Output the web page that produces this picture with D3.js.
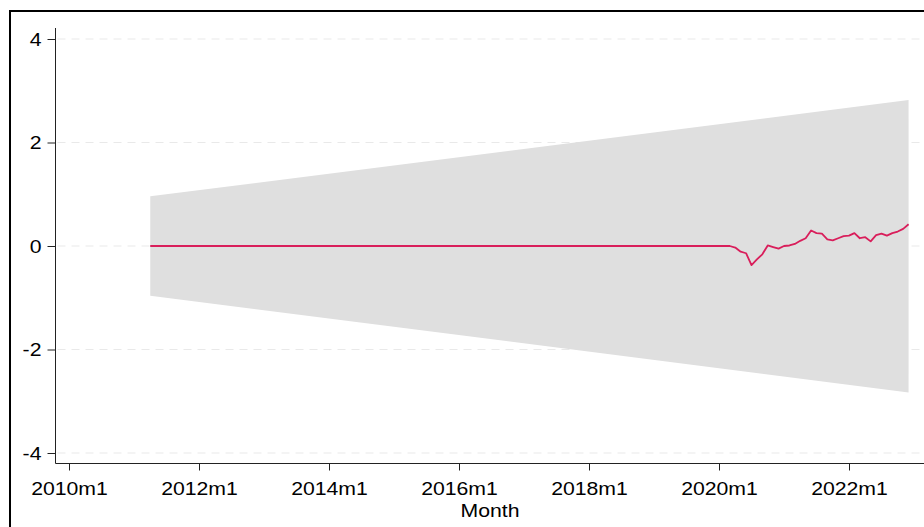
<!DOCTYPE html>
<html>
<head>
<meta charset="utf-8">
<script src="https://cdn.jsdelivr.net/npm/d3@7"></script>
<style>
  body { margin: 0; background: #fff; }
  svg { display: block; }
  text { font-family: "Liberation Sans", Arial, sans-serif; fill: #000; }
</style>
</head>
<body>
<svg id="chart" width="924" height="527"></svg>
<script>
// ---------------- DATA ----------------
const xTickLabels = ["2010m1", "2012m1", "2014m1", "2016m1", "2018m1", "2020m1", "2022m1"];
const yTickValues = [-4, -2, 0, 2, 4];

// shaded interval (straight edges, read at its two ends)
const bandDates = ["2011m4", "2022m12"];
const bandUpper = [0.96, 2.82];
const bandLower = [-0.96, -2.83];

// response line
const lineDates = [
  "2011m4", "2020m3", "2020m4", "2020m5", "2020m6", "2020m7", "2020m8", "2020m9",
  "2020m10", "2020m11", "2020m12", "2021m1", "2021m2", "2021m3", "2021m4", "2021m5",
  "2021m6", "2021m7", "2021m8", "2021m9", "2021m10", "2021m11", "2021m12", "2022m1",
  "2022m2", "2022m3", "2022m4", "2022m5", "2022m6", "2022m7", "2022m8", "2022m9",
  "2022m10", "2022m11", "2022m12"
];
const lineValues = [
  0, 0, -0.03, -0.11, -0.14, -0.37, -0.26, -0.16,
  0.01, -0.02, -0.05, 0.0, 0.01, 0.04, 0.10, 0.15,
  0.30, 0.25, 0.24, 0.13, 0.11, 0.15, 0.19, 0.20,
  0.25, 0.15, 0.17, 0.09, 0.21, 0.24, 0.20, 0.25,
  0.28, 0.33, 0.42
];

// "2010m1" -> months since 1960m1 (Stata style)
const toMonth = (s) => {
  const [y, m] = s.split("m").map(Number);
  return (y - 1960) * 12 + (m - 1);
};
const fmtMonth = (t) => `${1960 + Math.floor(t / 12)}m${(t % 12) + 1}`;

// ---------------- CHART ----------------
const svg = d3.select("#chart");
const stretch = 1.18;

const x = d3.scaleLinear()
  .domain([toMonth("2010m1"), toMonth("2022m1")])
  .range([69, 849]);
const y = d3.scaleLinear().domain([-4, 4]).range([453, 39]);

const axisX0 = 55.5, axisY0 = 463.5, rightEdge = 924;

// outer frame (extends past the picture on right/bottom)
svg.append("rect")
  .attr("x", 10).attr("y", 11)
  .attr("width", 1000).attr("height", 1000)
  .attr("fill", "none").attr("stroke", "#000").attr("stroke-width", 2);

// gridlines
svg.append("g")
  .selectAll("line")
  .data(yTickValues)
  .join("line")
  .attr("x1", axisX0 + 2).attr("x2", rightEdge - 2)
  .attr("y1", (d) => y(d)).attr("y2", (d) => y(d))
  .attr("stroke", "#e9e9e9").attr("stroke-width", 1.2)
  .attr("stroke-dasharray", "8,6");

// band
const bandData = bandDates.map((d, i) => ({ t: toMonth(d), lo: bandLower[i], hi: bandUpper[i] }));
svg.append("path")
  .datum(bandData)
  .attr("fill", "#dfdfdf")
  .attr("d", d3.area().x((d) => x(d.t)).y0((d) => y(d.lo)).y1((d) => y(d.hi)));

// line
const lineData = lineDates.map((d, i) => ({ t: toMonth(d), v: lineValues[i] }));
svg.append("path")
  .datum(lineData)
  .attr("fill", "none")
  .attr("stroke", "#d91e5b")
  .attr("stroke-width", 1.8)
  .attr("stroke-linejoin", "round")
  .attr("d", d3.line().x((d) => x(d.t)).y((d) => y(d.v)));

// y axis
const yAxis = svg.append("g")
  .attr("transform", `translate(${axisX0},0)`)
  .call(d3.axisLeft(y).tickValues(yTickValues).tickSize(8).tickSizeOuter(0).tickFormat((d) => String(d)));
yAxis.select(".domain").attr("d", `M0,28V${axisY0}`).attr("stroke", "#222");
yAxis.selectAll(".tick line").attr("stroke", "#222");
yAxis.selectAll(".tick text")
  .attr("x", 0).attr("dy", "0.36em")
  .attr("transform", `translate(-14,0) scale(${stretch},1)`)
  .style("font-size", "18px");

// x axis
const xAxis = svg.append("g")
  .attr("transform", `translate(0,${axisY0})`)
  .call(d3.axisBottom(x).tickValues(xTickLabels.map(toMonth)).tickSize(7).tickSizeOuter(0).tickFormat(fmtMonth));
xAxis.select(".domain").attr("d", `M${axisX0},0H${rightEdge}`).attr("stroke", "#222");
xAxis.selectAll(".tick line").attr("stroke", "#222");
xAxis.selectAll(".tick text")
  .attr("y", 0).attr("dy", 0)
  .attr("transform", `translate(0,31) scale(${stretch},1)`)
  .style("font-size", "18px");

// axis title
svg.append("text")
  .attr("transform", `translate(490,516.5) scale(${stretch},1)`)
  .attr("text-anchor", "middle")
  .style("font-size", "18px")
  .text("Month");
</script>
</body>
</html>
